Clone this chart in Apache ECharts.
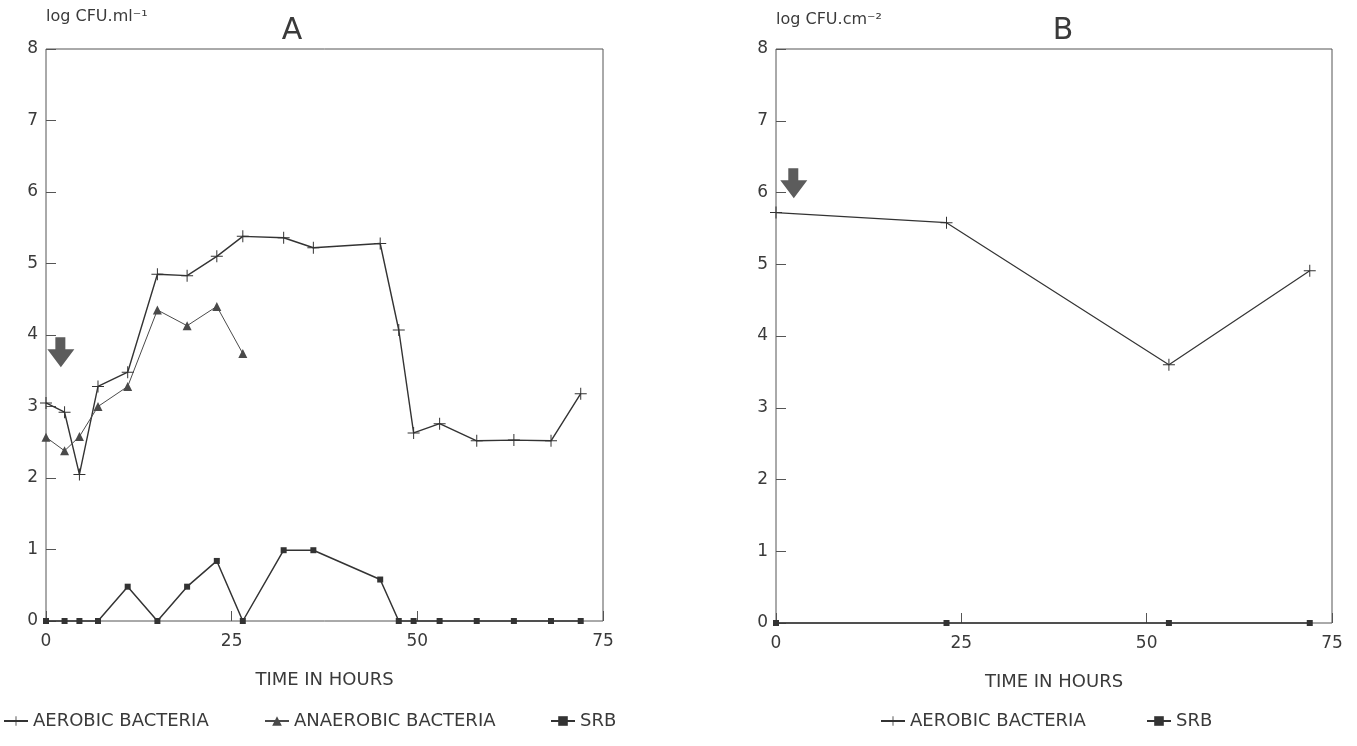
<!DOCTYPE html>
<html>
<head>
<meta charset="utf-8">
<script src="https://cdn.jsdelivr.net/npm/echarts@6/dist/echarts.min.js"></script>
<style>
    html, body { margin: 0; padding: 0; background: #fff; }
    #chart { width: 1357px; height: 746px; }
</style>
</head>
<body>
<div id="chart"></div>
<script>

// Data
// ------------------------------

// Panel A - suspended bacteria
var hoursA = [0, 2.5, 4.5, 7, 11, 15, 19, 23, 26.5, 32, 36, 45, 47.5, 49.5, 53, 58, 63, 68, 72];
var aerobicA = [3.05, 2.92, 2.05, 3.28, 3.48, 4.85, 4.83, 5.1, 5.38, 5.36, 5.22, 5.28, 4.07, 2.63, 2.76, 2.52, 2.53, 2.52, 3.18];
var anaerobicA = [2.57, 2.38, 2.58, 3.0, 3.28, 4.35, 4.13, 4.4, 3.74];
var srbA = [0, 0, 0, 0, 0.48, 0, 0.48, 0.84, 0, 0.99, 0.99, 0.58, 0, 0, 0, 0, 0, 0, 0];

// Panel B - attached bacteria
var hoursB = [0, 23, 53, 72];
var aerobicB = [5.72, 5.58, 3.6, 4.91];
var srbB = [0, 0, 0, 0];

// Arrow markers (time, log value)
var arrowA = [2, 3.76];
var arrowB = [2.4, 6.13];

// Axis ticks
var xTicks = { min: 0, max: 75, step: 25 };
var yTicks = { min: 0, max: 8, step: 1 };


// Helpers
// ------------------------------

var pairs = function(xs, ys) {
    return ys.map(function(y, i) { return [xs[i], y]; });
};

var textColor = '#3a3a3a',
    lineColor = '#333',
    frameColor = '#555',
    fontFamily = '"DejaVu Sans", Arial, sans-serif';

var plusSymbol = 'path://M5.5,0h1v5.5h5.5v1h-5.5v5.5h-1v-5.5h-5.5v-1h5.5z';
var arrowSymbol = 'path://M8,0H18V12H27L13.5,30L0,12H8Z';

var makeX = function(idx) {
    return {
        type: 'value',
        gridIndex: idx,
        min: xTicks.min,
        max: xTicks.max,
        interval: xTicks.step,
        name: 'TIME IN HOURS',
        nameLocation: 'middle',
        nameGap: 50,
        nameTextStyle: { color: textColor, fontSize: 18, fontFamily: fontFamily },
        axisLine: { show: false },
        axisTick: { show: true, inside: true, length: 10, lineStyle: { color: frameColor } },
        axisLabel: { color: textColor, fontSize: 17, fontFamily: fontFamily, margin: 12 },
        splitLine: { show: false }
    };
};

var makeY = function(idx) {
    return {
        type: 'value',
        gridIndex: idx,
        min: yTicks.min,
        max: yTicks.max,
        interval: yTicks.step,
        axisLine: { show: false },
        axisTick: { show: true, inside: true, length: 10, lineStyle: { color: frameColor } },
        axisLabel: { color: textColor, fontSize: 17, fontFamily: fontFamily, margin: 8 },
        splitLine: { show: false }
    };
};

var lineSeries = function(name, idx, data, symbol, size, width, color) {
    return {
        name: name,
        type: 'line',
        xAxisIndex: idx,
        yAxisIndex: idx,
        data: data,
        symbol: symbol,
        symbolSize: size,
        showAllSymbol: true,
        clip: false,
        lineStyle: { color: color, width: width },
        itemStyle: { color: color, borderWidth: 0 },
        emphasis: { disabled: true }
    };
};

var arrowMark = function(coord) {
    return {
        symbol: arrowSymbol,
        symbolSize: [27, 30],
        label: { show: false },
        itemStyle: { color: '#5c5c5c' },
        data: [{ coord: coord }]
    };
};

var legendAt = function(left, name) {
    return {
        left: left,
        top: 712,
        padding: 0,
        itemWidth: 24,
        itemHeight: 12,
        itemGap: 4,
        data: [name],
        textStyle: { color: textColor, fontSize: 18, fontFamily: fontFamily }
    };
};


// Chart
// ------------------------------

var chart = echarts.init(document.getElementById('chart'));

var seriesA1 = lineSeries('AEROBIC BACTERIA', 0, pairs(hoursA, aerobicA), plusSymbol, 12, 1.4, lineColor);
seriesA1.markPoint = arrowMark(arrowA);

var seriesB1 = lineSeries('AEROBIC BACTERIA', 1, pairs(hoursB, aerobicB), plusSymbol, 12, 1.2, lineColor);
seriesB1.markPoint = arrowMark(arrowB);

chart.setOption({
    animation: false,
    textStyle: { fontFamily: fontFamily },

    grid: [
        { left: 46, top: 49, width: 557, height: 572, show: true, borderColor: frameColor, borderWidth: 1 },
        { left: 776, top: 49, width: 556, height: 574, show: true, borderColor: frameColor, borderWidth: 1 }
    ],

    xAxis: [makeX(0), makeX(1)],
    yAxis: [makeY(0), makeY(1)],

    legend: [
        legendAt(3, 'AEROBIC BACTERIA'),
        legendAt(264, 'ANAEROBIC BACTERIA'),
        legendAt(550, 'SRB'),
        legendAt(880, 'AEROBIC BACTERIA'),
        legendAt(1146, 'SRB')
    ],

    graphic: [
        { type: 'text', x: 46, y: 17, style: { text: 'log CFU.ml⁻¹', fill: textColor, font: '16px ' + fontFamily, verticalAlign: 'middle' } },
        { type: 'text', x: 292, y: 31, style: { text: 'A', fill: textColor, font: '30px ' + fontFamily, align: 'center', verticalAlign: 'middle' } },
        { type: 'text', x: 776, y: 20, style: { text: 'log CFU.cm⁻²', fill: textColor, font: '16px ' + fontFamily, verticalAlign: 'middle' } },
        { type: 'text', x: 1063, y: 31, style: { text: 'B', fill: textColor, font: '30px ' + fontFamily, align: 'center', verticalAlign: 'middle' } }
    ],

    series: [
        seriesA1,
        lineSeries('ANAEROBIC BACTERIA', 0, pairs(hoursA, anaerobicA), 'triangle', 9, 1, '#4a4a4a'),
        lineSeries('SRB', 0, pairs(hoursA, srbA), 'rect', 6, 1.5, lineColor),
        seriesB1,
        lineSeries('SRB', 1, pairs(hoursB, srbB), 'rect', 6, 1.5, lineColor)
    ]
});

</script>
</body>
</html>
